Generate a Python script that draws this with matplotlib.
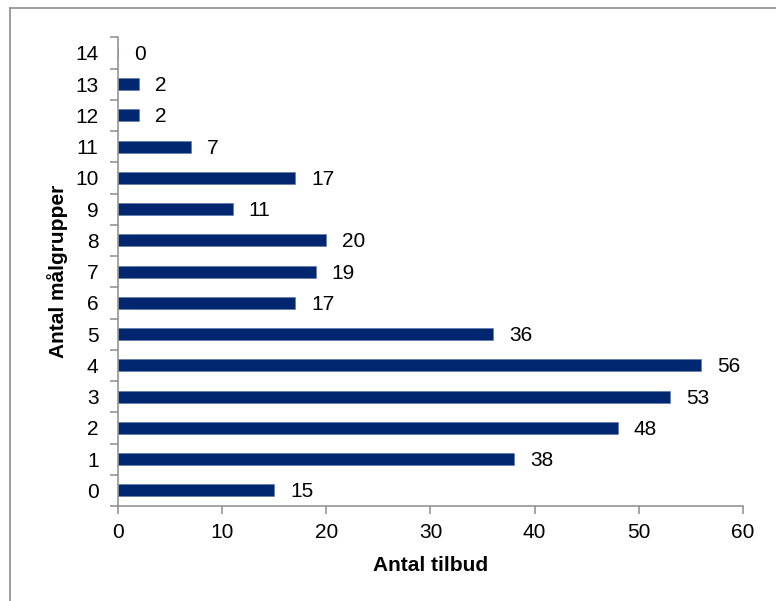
import numpy as np
import matplotlib.pyplot as plt
from matplotlib.lines import Line2D

plt.rcParams["font.family"] = ["Liberation Sans", "DejaVu Sans"]

# antal målgrupper pr. tilbud
groups = list(range(15))
offers = [15, 38, 48, 53, 56, 36, 17, 19, 20, 11, 17, 7, 2, 2, 0]

bar_color = "#00266F"
axis_color = "#8C8C8C"
fs = 15

fig = plt.figure(figsize=(7.76, 6.01), dpi=100)
ax = fig.add_axes([0.152, 0.158, 0.8055, 0.780])

ax.barh(groups, offers, height=0.38, color=bar_color, edgecolor="#5A74A8", linewidth=0.4)

for g, v in zip(groups, offers):
    ax.annotate(str(v), xy=(v, g), xytext=(11.5, -1), textcoords="offset points",
                ha="left", va="center", fontsize=fs)

ax.set_xlim(0, 60)
ax.set_ylim(-0.5, 14.5)
ax.set_xticks(np.arange(0, 61, 10))
ax.set_yticks(groups)
ax.set_yticks(np.arange(-0.5, 15, 1), minor=True)
ax.tick_params(axis="y", which="major", length=0, pad=14, labelsize=fs)
ax.tick_params(axis="y", which="minor", length=6, width=1.1, color=axis_color, direction="out")
ax.tick_params(axis="x", length=6, width=1.1, color=axis_color, direction="out", pad=6, labelsize=fs)

for side in ["top", "right"]:
    ax.spines[side].set_visible(False)
for side in ["left", "bottom"]:
    ax.spines[side].set_color(axis_color)
    ax.spines[side].set_linewidth(1.1)

ax.set_xlabel("Antal tilbud", fontsize=fs, fontweight="bold", labelpad=10)
ax.set_ylabel("Antal målgrupper", fontsize=fs, fontweight="bold", labelpad=5)

# ramme øverst og til venstre
fig.add_artist(Line2D([10 / 776, 10 / 776], [0, 1 - 8 / 601], color=axis_color, lw=1.2))
fig.add_artist(Line2D([10 / 776, 1], [1 - 8 / 601, 1 - 8 / 601], color=axis_color, lw=1.2))

fig.savefig("out.png", dpi=100)
